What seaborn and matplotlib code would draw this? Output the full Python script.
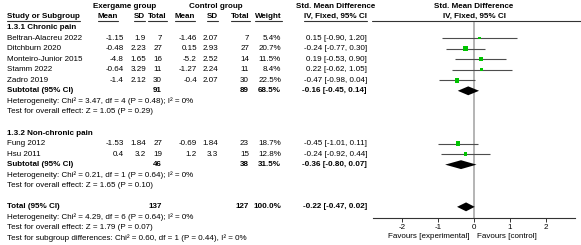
import numpy as np
import pandas as pd
import matplotlib
matplotlib.use('Agg')
import matplotlib.pyplot as plt
import seaborn as sns

# study level data
studies = ['Beltran-Alacreu 2022', 'Ditchburn 2020', 'Monteiro-Junior 2015', 'Stamm 2022',
           'Zadro 2019', 'Fung 2012', 'Hsu 2011']
subgroup = ['chronic', 'chronic', 'chronic', 'chronic', 'chronic', 'non', 'non']
exer_mean = [-1.15, -0.48, -4.8, -0.64, -1.4, -1.53, 0.4]
exer_sd = [1.9, 2.23, 1.65, 3.29, 2.12, 1.84, 3.2]
exer_n = [7, 27, 16, 11, 30, 27, 19]
ctrl_mean = [-1.46, 0.15, -5.2, -1.27, -0.4, -0.69, 1.2]
ctrl_sd = [2.07, 2.93, 2.52, 2.24, 2.07, 1.84, 3.3]
ctrl_n = [7, 27, 14, 11, 30, 23, 15]
weight = [5.4, 20.7, 11.5, 8.4, 22.5, 18.7, 12.8]
smd = [0.15, -0.24, 0.19, 0.22, -0.47, -0.45, -0.24]
ci_low = [-0.90, -0.77, -0.53, -0.62, -0.98, -1.01, -0.92]
ci_high = [1.20, 0.30, 0.90, 1.05, 0.04, 0.11, 0.44]

# pooled estimates
pooled_labels = ['Subtotal (95% CI)', 'Subtotal (95% CI)', 'Total (95% CI)']
pooled_exer_n = [91, 46, 137]
pooled_ctrl_n = [89, 38, 127]
pooled_weight = [68.5, 31.5, 100.0]
pooled_smd = [-0.16, -0.36, -0.22]
pooled_low = [-0.45, -0.80, -0.47]
pooled_high = [0.14, 0.07, 0.02]

group_titles = ['1.3.1 Chronic pain', '1.3.2 Non-chronic pain']
het_lines = [
    ['Heterogeneity: Chi\u00b2 = 3.47, df = 4 (P = 0.48); I\u00b2 = 0%',
     'Test for overall effect: Z = 1.05 (P = 0.29)'],
    ['Heterogeneity: Chi\u00b2 = 0.21, df = 1 (P = 0.64); I\u00b2 = 0%',
     'Test for overall effect: Z = 1.65 (P = 0.10)'],
    ['Heterogeneity: Chi\u00b2 = 4.29, df = 6 (P = 0.64); I\u00b2 = 0%',
     'Test for overall effect: Z = 1.79 (P = 0.07)',
     'Test for subgroup differences: Chi\u00b2 = 0.60, df = 1 (P = 0.44), I\u00b2 = 0%'],
]
xticks = [-2, -1, 0, 1, 2]

sns.set_style('white')
plt.rcParams['font.family'] = ['Liberation Sans', 'DejaVu Sans']
FS = 5.75
TXT = '#000000'

W, H = 581, 245
fig = plt.figure(figsize=(W / 100, H / 100), dpi=100)

# row layout (pixel y of row k)
Y0, PITCH = 27.5, 10.55
def ypix(k):
    return Y0 + PITCH * k

def krow(p):
    return (p - Y0) / PITCH

# text layer in pixel coordinates
ax_t = fig.add_axes([0, 0, 1, 1])
ax_t.set_xlim(0, W)
ax_t.set_ylim(H, 0)
ax_t.axis('off')

# forest layer
AX_L, AX_R, AX_TOP, AX_BOT = 373, 575, 21.5, 218
ax_f = fig.add_axes([AX_L / W, 1 - AX_BOT / H, (AX_R - AX_L) / W, (AX_BOT - AX_TOP) / H])
ax_f.set_xlim(-2.8, 2.8)
ax_f.set_ylim(krow(AX_BOT), krow(AX_TOP))
ax_f.patch.set_alpha(0)

# build row table
rows = []
k = 0
for g, gname in enumerate(['chronic', 'non']):
    rows.append(('title', g, k)); k += 1
    for i, s in enumerate(studies):
        if subgroup[i] == gname:
            rows.append(('study', i, k)); k += 1
    rows.append(('pooled', g, k)); k += 1
    for line in het_lines[g]:
        rows.append(('het', line, k)); k += 1
    k += 1
rows.append(('pooled', 2, k)); k += 1
for line in het_lines[2]:
    rows.append(('het', line, k)); k += 1

study_rows = {r[1]: r[2] for r in rows if r[0] == 'study'}
pooled_rows = {r[1]: r[2] for r in rows if r[0] == 'pooled'}

# column positions (right edges)
C_LABEL = 7
C_EM, C_ES, C_EN = 124, 146, 162
C_CM, C_CS, C_CN = 197, 218, 249
C_W, C_CI = 281, 367

def put(x, y, s, ha='right', bold=False):
    return ax_t.text(x, y, s, ha=ha, va='center', fontsize=FS, color=TXT,
                     fontweight='bold' if bold else 'normal')

# headers
for x, s in [(125, 'Exergame group'), (216, 'Control group'), (336, 'Std. Mean Difference'),
             (474, 'Std. Mean Difference')]:
    put(x, 7, s, ha='center', bold=True)
head = [put(C_LABEL, 16.5, 'Study or Subgroup', ha='left', bold=True),
        put(118, 16.5, 'Mean', bold=True), put(145, 16.5, 'SD', bold=True),
        put(167, 16.5, 'Total', bold=True), put(195, 16.5, 'Mean', bold=True),
        put(218, 16.5, 'SD', bold=True), put(250, 16.5, 'Total', bold=True),
        put(282, 16.5, 'Weight', bold=True), put(367, 16.5, 'IV, Fixed, 95% CI', bold=True)]
put(474, 16.5, 'IV, Fixed, 95% CI', ha='center', bold=True)

for kind, idx, kk in rows:
    y = ypix(kk)
    if kind == 'title':
        put(C_LABEL, y, group_titles[idx], ha='left', bold=True)
    elif kind == 'study':
        i = idx
        put(C_LABEL, y, studies[i], ha='left')
        put(C_EM, y, f'{exer_mean[i]:g}'); put(C_ES, y, f'{exer_sd[i]:g}'); put(C_EN, y, f'{exer_n[i]}')
        put(C_CM, y, f'{ctrl_mean[i]:g}'); put(C_CS, y, f'{ctrl_sd[i]:g}'); put(C_CN, y, f'{ctrl_n[i]}')
        put(C_W, y, f'{weight[i]:.1f}%')
        put(C_CI, y, f'{smd[i]:.2f} [{ci_low[i]:.2f}, {ci_high[i]:.2f}]')
    elif kind == 'pooled':
        g = idx
        put(C_LABEL, y, pooled_labels[g], ha='left', bold=True)
        put(C_EN, y, f'{pooled_exer_n[g]}', bold=True)
        put(C_CN, y, f'{pooled_ctrl_n[g]}', bold=True)
        put(C_W, y, f'{pooled_weight[g]:.1f}%', bold=True)
        put(C_CI, y, f'{pooled_smd[g]:.2f} [{pooled_low[g]:.2f}, {pooled_high[g]:.2f}]', bold=True)
    else:
        put(C_LABEL, y, idx, ha='left')

put(470, 236, 'Favours [experimental]')
put(477, 236, 'Favours [control]', ha='left')

# forest marks
df = pd.DataFrame({'study': studies, 'smd': smd, 'low': ci_low, 'high': ci_high,
                   'weight': weight, 'row': [study_rows[i] for i in range(len(studies))]})
ax_f.axvline(0, color='#a0a0a0', lw=1.1, zorder=1)
ax_f.hlines(df['row'], df['low'], df['high'], color='#4d4d4d', lw=0.8, zorder=2)
sns.scatterplot(data=df, x='smd', y='row', size='weight', sizes=(2.8, 11.5),
                marker='s', color='#00c400', edgecolor='none', legend=False, ax=ax_f, zorder=3)
for g in range(3):
    r = pooled_rows[g]
    ax_f.fill([pooled_low[g], pooled_smd[g], pooled_high[g], pooled_smd[g]],
              [r, r - 0.42, r, r + 0.42], color='black', lw=0, zorder=3)

ax_f.set_xticks(xticks)
ax_f.set_xticklabels([str(t) for t in xticks])
ax_f.set_yticks([])
ax_f.set_xlabel('')
ax_f.set_ylabel('')
for side in ['top', 'left', 'right']:
    ax_f.spines[side].set_visible(False)
ax_f.spines['bottom'].set_color('#333333')
ax_f.spines['bottom'].set_linewidth(0.8)
ax_f.tick_params(axis='x', direction='out', length=3, width=0.7, color='#333333',
                 labelsize=FS, labelcolor=TXT, pad=1.5, bottom=True)

# underline headers and rule above forest
ax_t.plot([372, W], [AX_TOP, AX_TOP], color='#333333', lw=0.8)
fig.canvas.draw()
rend = fig.canvas.get_renderer()
inv = ax_t.transData.inverted()
for t in head:
    bb = t.get_window_extent(rend)
    (x0, _), (x1, _) = inv.transform([(bb.x0, bb.y0), (bb.x1, bb.y0)])
    ax_t.plot([x0, x1], [AX_TOP, AX_TOP], color='#333333', lw=0.8)

fig.savefig('out.png', dpi=100)
